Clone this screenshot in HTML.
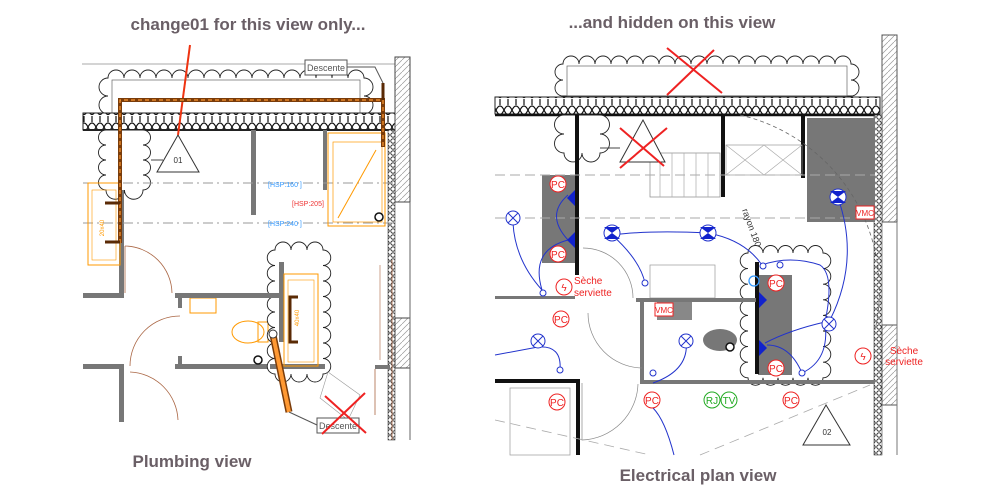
<!DOCTYPE html>
<html><head><meta charset="utf-8"><style>
html,body{margin:0;padding:0;background:#fff;width:999px;height:500px;overflow:hidden}
svg{display:block}
.t{font-family:"Liberation Sans",sans-serif;font-weight:bold;fill:#6a5f66;font-size:17px}
.s{font-family:"Liberation Sans",sans-serif}
.cl{fill:#fff;stroke:#222;stroke-width:0.9}
</style></head><body>
<svg width="999" height="500" viewBox="0 0 999 500" xmlns="http://www.w3.org/2000/svg">
<defs>
<pattern id="ins" width="8" height="17" patternUnits="userSpaceOnUse">
<rect width="8" height="17" fill="#fff"/>
<path d="M0 8 Q4 0 8 8 M0 8 Q4 17 8 8 M4 0 L4 3 M4 14 L4 17" stroke="#111" fill="none" stroke-width="1.2"/>
</pattern>
<pattern id="insv" width="6" height="6" patternUnits="userSpaceOnUse">
<rect width="6" height="6" fill="#fff"/><circle cx="3" cy="3" r="2.2" stroke="#222" fill="none" stroke-width="0.9"/>
</pattern>
<pattern id="hat" width="6" height="6" patternUnits="userSpaceOnUse">
<rect width="6" height="6" fill="#fff"/><path d="M0 6 L6 0" stroke="#999" stroke-width="0.7"/>
</pattern>
</defs>

<text class="t" x="248" y="30" text-anchor="middle">change01 for this view only...</text>
<text class="t" x="672" y="28" text-anchor="middle">...and hidden on this view</text>
<text class="t" x="192" y="467" text-anchor="middle">Plumbing view</text>
<text class="t" x="698" y="481" text-anchor="middle">Electrical plan view</text>

<!-- ============ LEFT ============ -->
<g>
<line x1="82" y1="64" x2="395" y2="64" stroke="#aaa" stroke-width="1"/>
<path class="cl" d="M108 114 a9 9 0 0 1 0 -18 a9 9 0 0 1 0 -18 a8 8 0 0 1 16 0 a8 8 0 0 1 16 0 a8 8 0 0 1 16 0 a8 8 0 0 1 16 0 a8 8 0 0 1 16 0 a8 8 0 0 1 16 0 a8 8 0 0 1 16 0 a8 8 0 0 1 16 0 a8 8 0 0 1 16 0 a8 8 0 0 1 16 0 a8 8 0 0 1 16 0 a8 8 0 0 1 16 0 a8 8 0 0 1 16 0 a8 8 0 0 1 16 0 a8 8 0 0 1 16 0 a8 8 0 0 1 16 0 a9 9 0 0 1 0 18 a9 9 0 0 1 0 18 Z"/>
<rect x="112" y="80" width="248" height="34" fill="none" stroke="#666" stroke-width="0.7"/>
<rect x="83" y="113" width="312" height="17" fill="url(#ins)" stroke="#222" stroke-width="1"/>
<line x1="83" y1="130" x2="395" y2="130" stroke="#222" stroke-width="2"/>
<rect x="395" y="57" width="15" height="145" fill="url(#hat)" stroke="#444" stroke-width="1"/>
<rect x="388" y="130" width="7" height="310" fill="url(#insv)" stroke="#444" stroke-width="0.6"/>
<rect x="395" y="318" width="15" height="50" fill="url(#hat)" stroke="#444" stroke-width="1"/>
<line x1="410" y1="202" x2="410" y2="440" stroke="#666"/>
<path class="cl" d="M106 130 L143 130 a7.5 7.5 0 0 1 0 15 a7.5 7.5 0 0 1 0 15 a7.5 7.5 0 0 1 0 15 a7.5 7.5 0 0 1 0 15 a9.25 9.25 0 0 1 -18.5 0 a9.25 9.25 0 0 1 -18.5 0 a7.5 7.5 0 0 1 0 -15 a7.5 7.5 0 0 1 0 -15 a7.5 7.5 0 0 1 0 -15 a7.5 7.5 0 0 1 0 -15 Z"/>
<line x1="151" y1="160" x2="163" y2="160" stroke="#444"/>
<polygon points="178,135 157,172 199,172" fill="#fff" stroke="#333" stroke-width="1"/>
<text class="s" x="178" y="163" font-size="8" text-anchor="middle" fill="#333">01</text>
<line x1="190" y1="45" x2="178" y2="135" stroke="#e31" stroke-width="2"/>
<g fill="#777">
<rect x="251" y="130" width="5" height="85"/>
<rect x="323" y="130" width="4" height="60"/>
<rect x="119" y="190" width="5" height="108"/>
<rect x="83" y="293" width="40" height="5"/>
<rect x="175" y="293" width="105" height="5"/>
<rect x="83" y="364" width="40" height="5"/>
<rect x="175" y="364" width="150" height="5"/>
<rect x="119" y="364" width="5" height="58"/>
<rect x="375" y="365" width="15" height="4"/>
<rect x="178" y="298" width="4" height="10"/>
<rect x="178" y="356" width="4" height="10"/>
</g>
<line x1="83" y1="183" x2="395" y2="183" stroke="#999" stroke-dasharray="10,4,2,4"/>
<line x1="83" y1="223" x2="395" y2="223" stroke="#999" stroke-dasharray="10,4,2,4"/>
<text class="s" x="268" y="187" font-size="7" fill="#39f">[HSP:160 ]</text>
<text class="s" x="292" y="206" font-size="7" fill="#e33">[HSP:205]</text>
<text class="s" x="268" y="226" font-size="7" fill="#39f">[HSP:240 ]</text>
<rect x="328" y="133" width="57" height="93" fill="none" stroke="#f90" stroke-width="1"/>
<rect x="333" y="142" width="49" height="80" fill="none" stroke="#f90" stroke-width="0.7"/>
<line x1="338" y1="218" x2="376" y2="150" stroke="#f90"/>
<circle cx="379" cy="217" r="4" fill="#fff" stroke="#111" stroke-width="1.5"/>
<rect x="88" y="183" width="32" height="82" fill="none" stroke="#f90"/>
<rect x="92" y="190" width="24" height="70" fill="none" stroke="#f90" stroke-width="0.6"/>
<text class="s" x="104" y="228" font-size="6" fill="#f90" transform="rotate(-90 104 228)" text-anchor="middle">20x40</text>
<path d="M120 243 L120 100 L383 100 L383 147" fill="none" stroke="#7a3c0a" stroke-width="4"/>
<path d="M120 243 L120 100 L383 100 L383 147" fill="none" stroke="#f93" stroke-width="1.2" stroke-dasharray="4,3"/>
<line x1="105" y1="203" x2="120" y2="203" stroke="#5a2a05" stroke-width="3"/>
<line x1="105" y1="242" x2="120" y2="242" stroke="#5a2a05" stroke-width="3"/>
<line x1="383" y1="83" x2="383" y2="100" stroke="#5a2a05" stroke-width="3"/>
<path d="M125 246 A48 48 0 0 1 172 293" fill="none" stroke="#a64" stroke-width="0.8"/>
<line x1="125" y1="246" x2="125" y2="293" stroke="#a64" stroke-width="0.8"/>
<path d="M130 366 A50 50 0 0 1 180 316" fill="none" stroke="#a64" stroke-width="0.8"/>
<path d="M130 372 A50 50 0 0 1 178 420" fill="none" stroke="#a64" stroke-width="0.8"/>
<rect x="190" y="298" width="26" height="15" fill="none" stroke="#f90"/>
<ellipse cx="248" cy="332" rx="16" ry="11" fill="none" stroke="#f90"/>
<rect x="258" y="322" width="10" height="20" fill="none" stroke="#f90"/>
<circle cx="258" cy="360" r="4" fill="#fff" stroke="#111" stroke-width="1.5"/>
<!-- right block cloud -->
<path class="cl" d="M275 250 a8 8 0 0 1 16 0 a8 8 0 0 1 16 0 a8 8 0 0 1 16 0 a7.75 7.75 0 0 1 0 15.5 a7.75 7.75 0 0 1 0 15.5 a7.75 7.75 0 0 1 0 15.5 a7.75 7.75 0 0 1 0 15.5 a7.75 7.75 0 0 1 0 15.5 a7.75 7.75 0 0 1 0 15.5 a7.75 7.75 0 0 1 0 15.5 a7.75 7.75 0 0 1 0 15.5 a8 8 0 0 1 -16 0 a8 8 0 0 1 -16 0 a8 8 0 0 1 -16 0 a7.75 7.75 0 0 1 0 -15.5 a7.75 7.75 0 0 1 0 -15.5 a7.75 7.75 0 0 1 0 -15.5 a7.75 7.75 0 0 1 0 -15.5 a7.75 7.75 0 0 1 0 -15.5 a7.75 7.75 0 0 1 0 -15.5 a7.75 7.75 0 0 1 0 -15.5 a7.75 7.75 0 0 1 0 -15.5 Z"/>
<rect x="279" y="262" width="5" height="80" fill="#777"/>
<rect x="175" y="293" width="105" height="5" fill="#777"/>
<rect x="270" y="364" width="55" height="5" fill="#777"/>
<rect x="284" y="274" width="34" height="92" fill="none" stroke="#f90"/>
<rect x="288" y="280" width="26" height="82" fill="none" stroke="#f90" stroke-width="0.6"/>
<text class="s" x="299" y="318" font-size="6" fill="#f90" transform="rotate(-90 299 318)" text-anchor="middle">40x40</text>
<path d="M298 297 L290 297 L290 342 L298 342" fill="none" stroke="#5a2a05" stroke-width="3"/>
<line x1="273" y1="335" x2="289" y2="412" stroke="#7a3c0a" stroke-width="7"/>
<line x1="273" y1="335" x2="289" y2="412" stroke="#f93" stroke-width="4"/>
<circle cx="273" cy="334" r="4" fill="#fff" stroke="#333"/>
<path d="M328 372 L320 398 L348 420 L360 395 Z" fill="none" stroke="#999" stroke-width="0.6"/>
<line x1="375" y1="369" x2="375" y2="415" stroke="#a64" stroke-width="0.8"/>
<line x1="392" y1="260" x2="392" y2="440" stroke="#a64" stroke-width="0.8"/>
<line x1="380" y1="265" x2="380" y2="360" stroke="#a64" stroke-width="0.6"/>
<rect x="305" y="60" width="42" height="15" fill="#fff" stroke="#555"/>
<text class="s" x="326" y="71" font-size="9" fill="#555" text-anchor="middle">Descente</text>
<path d="M347 67 L375 67 L383 83" fill="none" stroke="#555"/>
<rect x="317" y="418" width="42" height="15" fill="#fff" stroke="#555"/>
<text class="s" x="338" y="429" font-size="9" fill="#555" text-anchor="middle">Descente</text>
<line x1="289" y1="412" x2="317" y2="425" stroke="#555"/>
<line x1="325" y1="396" x2="366" y2="433" stroke="#e22" stroke-width="2"/>
<line x1="365" y1="393" x2="322" y2="434" stroke="#e22" stroke-width="2"/>
</g>

<!-- ============ RIGHT ============ -->
<g>
<path class="cl" d="M563 96 a8 8 0 0 1 0 -16 a8 8 0 0 1 0 -16 a8 8 0 0 1 16 0 a8 8 0 0 1 16 0 a8 8 0 0 1 16 0 a8 8 0 0 1 16 0 a8 8 0 0 1 16 0 a8 8 0 0 1 16 0 a8 8 0 0 1 16 0 a8 8 0 0 1 16 0 a8 8 0 0 1 16 0 a8 8 0 0 1 16 0 a8 8 0 0 1 16 0 a8 8 0 0 1 16 0 a8 8 0 0 1 16 0 a8 8 0 0 1 16 0 a8 8 0 0 1 16 0 a8 8 0 0 1 16 0 a8 8 0 0 1 16 0 a8 8 0 0 1 16 0 a8 8 0 0 1 0 16 a8 8 0 0 1 0 16 Z"/>
<rect x="567" y="66" width="280" height="30" fill="none" stroke="#666" stroke-width="0.7"/>
<line x1="667" y1="48" x2="722" y2="93" stroke="#e22" stroke-width="2"/>
<line x1="714" y1="50" x2="667" y2="95" stroke="#e22" stroke-width="2"/>
<rect x="495" y="97" width="385" height="17" fill="url(#ins)" stroke="#222"/>
<line x1="495" y1="115" x2="880" y2="115" stroke="#111" stroke-width="2.5"/>
<rect x="882" y="35" width="15" height="187" fill="url(#hat)" stroke="#555"/>
<rect x="874" y="115" width="8" height="340" fill="url(#insv)" stroke="#444" stroke-width="0.6"/>
<rect x="882" y="325" width="15" height="80" fill="url(#hat)" stroke="#555"/>
<line x1="897" y1="222" x2="897" y2="455" stroke="#777"/>
<path class="cl" d="M564 115 L600 115 a9.5 9.5 0 0 1 0 19 a9.5 9.5 0 0 1 0 19 a9 9 0 0 1 -18 0 a9 9 0 0 1 -18 0 a9.5 9.5 0 0 1 0 -19 a9.5 9.5 0 0 1 0 -19 Z"/>
<line x1="600" y1="148" x2="620" y2="148" stroke="#444"/>
<rect x="542" y="175" width="35" height="88" fill="#777"/>
<rect x="807" y="118" width="68" height="104" fill="#777"/>
<rect x="657" y="300" width="35" height="20" fill="#888"/>
<ellipse cx="720" cy="340" rx="17" ry="11" fill="#777"/>
<g fill="#111">
<rect x="575" y="115" width="4" height="160"/>
<rect x="721" y="115" width="4" height="82"/>
<rect x="801" y="115" width="4" height="63"/>
<rect x="495" y="379" width="85" height="4"/>
<rect x="576" y="383" width="4" height="72"/>
</g>
<g fill="#777">
<rect x="495" y="296" width="80" height="3"/>
<rect x="636" y="298" width="120" height="4"/>
<rect x="640" y="380" width="235" height="4"/>
<rect x="640" y="300" width="4" height="80"/>
</g>
<rect x="650" y="153" width="70" height="44" fill="none" stroke="#888" stroke-width="0.7"/>
<g stroke="#aaa" stroke-width="0.7"><line x1="660" y1="153" x2="660" y2="197"/><line x1="672" y1="153" x2="672" y2="197"/><line x1="684" y1="153" x2="684" y2="197"/><line x1="696" y1="153" x2="696" y2="197"/><line x1="708" y1="153" x2="708" y2="197"/></g>
<rect x="726" y="145" width="76" height="30" fill="none" stroke="#999" stroke-width="0.7"/>
<path d="M726 145 L764 175 M764 145 L726 175 M764 145 L802 175 M802 145 L764 175" stroke="#aaa" stroke-width="0.7"/>
<rect x="650" y="265" width="65" height="33" fill="none" stroke="#999" stroke-width="0.7"/>
<line x1="495" y1="175" x2="875" y2="175" stroke="#aaa" stroke-dasharray="10,5"/>
<line x1="495" y1="218" x2="875" y2="218" stroke="#aaa" stroke-dasharray="10,5"/>
<path d="M740 115 A180 180 0 0 1 875 330" fill="none" stroke="#666" stroke-dasharray="4,3" stroke-width="0.8"/>
<text class="s" x="742" y="210" font-size="9" fill="#333" transform="rotate(70 742 210)">rayon 180</text>
<polygon points="643,120 620,162 665,162" fill="#fff" stroke="#333"/>
<line x1="620" y1="128" x2="664" y2="166" stroke="#e22" stroke-width="2"/>
<line x1="667" y1="128" x2="620" y2="168" stroke="#e22" stroke-width="2"/>
<!-- right block cloud -->
<path class="cl" d="M748 253 a7.5 7.5 0 0 1 15 0 a7.5 7.5 0 0 1 15 0 a7.5 7.5 0 0 1 15 0 a7.5 7.5 0 0 1 15 0 a7.5 7.5 0 0 1 15 0 a7.8 7.8 0 0 1 0 15.6 a7.8 7.8 0 0 1 0 15.6 a7.8 7.8 0 0 1 0 15.6 a7.8 7.8 0 0 1 0 15.6 a7.8 7.8 0 0 1 0 15.6 a7.8 7.8 0 0 1 0 15.6 a7.8 7.8 0 0 1 0 15.6 a7.8 7.8 0 0 1 0 15.6 a7.5 7.5 0 0 1 -15 0 a7.5 7.5 0 0 1 -15 0 a7.5 7.5 0 0 1 -15 0 a7.5 7.5 0 0 1 -15 0 a7.5 7.5 0 0 1 -15 0 a7.8 7.8 0 0 1 0 -15.6 a7.8 7.8 0 0 1 0 -15.6 a7.8 7.8 0 0 1 0 -15.6 a7.8 7.8 0 0 1 0 -15.6 a7.8 7.8 0 0 1 0 -15.6 a7.8 7.8 0 0 1 0 -15.6 a7.8 7.8 0 0 1 0 -15.6 a7.8 7.8 0 0 1 0 -15.6 Z"/>
<rect x="758" y="275" width="34" height="100" fill="#777"/>
<rect x="755" y="262" width="4" height="112" fill="#111"/>
<rect x="640" y="380" width="235" height="4" fill="#777"/>
<rect x="636" y="298" width="120" height="4" fill="#777"/>
<path d="M583 248 A50 50 0 0 1 633 298" fill="none" stroke="#888" stroke-width="0.7"/>
<path d="M588 313 A55 55 0 0 0 642 368" fill="none" stroke="#888" stroke-width="0.7"/>
<path d="M582 383 L582 440 A58 58 0 0 0 638 384" fill="none" stroke="#888" stroke-width="0.7"/>
<path d="M495 420 L650 455 M700 455 L870 385" fill="none" stroke="#aaa" stroke-dasharray="10,6" stroke-width="0.8"/>
<rect x="510" y="388" width="60" height="67" fill="none" stroke="#999" stroke-width="0.7"/>
<g fill="none" stroke="#2233cc" stroke-width="1">
<path d="M568 195 Q545 215 568 240"/>
<path d="M568 240 Q530 250 542 290"/>
<path d="M513 223 Q515 260 542 290"/>
<path d="M612 235 Q650 230 708 233"/>
<path d="M612 235 Q640 260 645 283"/>
<path d="M708 233 Q745 240 762 265 Q790 255 820 265 Q835 275 825 322 Q790 330 765 343"/>
<path d="M838 198 Q860 260 830 320"/>
<path d="M825 322 Q830 360 802 373"/>
<path d="M767 345 Q790 345 802 373"/>
<path d="M538 347 Q495 355 495 355"/>
<path d="M538 347 Q562 345 560 370"/>
<path d="M686 340 Q690 370 653 383"/>
<path d="M653 408 Q665 420 674 455"/>
</g>
<g fill="#fff" stroke="#2233cc" stroke-width="1">
<circle cx="513" cy="218" r="7"/><path d="M508 213 L518 223 M518 213 L508 223" stroke="#2233cc"/>
<circle cx="538" cy="341" r="7"/><path d="M533 336 L543 346 M543 336 L533 346" stroke="#2233cc"/>
<circle cx="686" cy="341" r="7"/><path d="M681 336 L691 346 M691 336 L681 346" stroke="#2233cc"/>
<circle cx="829" cy="324" r="7"/><path d="M824 319 L834 329 M834 319 L824 329" stroke="#2233cc"/>
<circle cx="612" cy="233" r="8"/><circle cx="708" cy="233" r="8"/><circle cx="838" cy="197" r="8"/>
<circle cx="543" cy="293" r="3"/><circle cx="645" cy="283" r="3"/><circle cx="763" cy="266" r="3"/><circle cx="780" cy="265" r="3"/><circle cx="560" cy="370" r="3"/><circle cx="653" cy="373" r="3"/><circle cx="802" cy="373" r="3"/><circle cx="653" cy="405" r="3"/>
</g>
<g fill="#1122cc">
<path d="M604 227 L620 227 L612 233 Z M604 239 L620 239 L612 233 Z"/>
<path d="M700 227 L716 227 L708 233 Z M700 239 L716 239 L708 233 Z"/>
<path d="M830 191 L846 191 L838 197 Z M830 203 L846 203 L838 197 Z"/>
<path d="M575 190 L567 198 L575 206 Z"/><path d="M575 232 L567 240 L575 248 Z"/>
<path d="M759 292 L767 300 L759 308 Z"/><path d="M759 340 L767 348 L759 356 Z"/>
</g>
<circle cx="754" cy="281" r="5" fill="none" stroke="#39f" stroke-width="1.3"/>
<g font-family="Liberation Sans,sans-serif" font-size="10" fill="#e22" text-anchor="middle">
<g fill="#fff" stroke="#e22" stroke-width="1">
<circle cx="558" cy="184" r="8"/><circle cx="558" cy="254" r="8"/><circle cx="561" cy="319" r="8"/><circle cx="557" cy="402" r="8"/><circle cx="652" cy="400" r="8"/><circle cx="776" cy="283" r="8"/><circle cx="776" cy="368" r="8"/><circle cx="791" cy="400" r="8"/><circle cx="564" cy="287" r="8"/><circle cx="863" cy="356" r="8"/>
</g>
<text x="558" y="188">PC</text><text x="558" y="258">PC</text><text x="561" y="323">PC</text><text x="557" y="406">PC</text><text x="652" y="404">PC</text><text x="776" y="287">PC</text><text x="776" y="372">PC</text><text x="791" y="404">PC</text>
<text x="564" y="291">ϟ</text><text x="863" y="360">ϟ</text>
<text x="574" y="284" text-anchor="start">Sèche</text><text x="574" y="296" text-anchor="start">serviette</text>
<text x="904" y="354">Sèche</text><text x="904" y="365">serviette</text>
<rect x="856" y="206" width="18" height="13" fill="#fff" stroke="#e22"/><text x="865" y="216" font-size="8">VMC</text>
<rect x="655" y="303" width="18" height="13" fill="#fff" stroke="#e22"/><text x="664" y="313" font-size="8">VMC</text>
</g>
<g font-family="Liberation Sans,sans-serif" font-size="10" fill="#2a2" text-anchor="middle">
<circle cx="712" cy="400" r="8" fill="#fff" stroke="#2a2"/><circle cx="729" cy="400" r="8" fill="#fff" stroke="#2a2"/>
<text x="712" y="404">RJ</text><text x="729" y="404">TV</text>
</g>
<circle cx="730" cy="347" r="4" fill="#fff" stroke="#111" stroke-width="1.5"/>
<polygon points="826,405 803,445 850,445" fill="#fff" stroke="#333"/>
<text class="s" x="827" y="435" font-size="8" text-anchor="middle" fill="#333">02</text>
</g>
</svg>
</body></html>
